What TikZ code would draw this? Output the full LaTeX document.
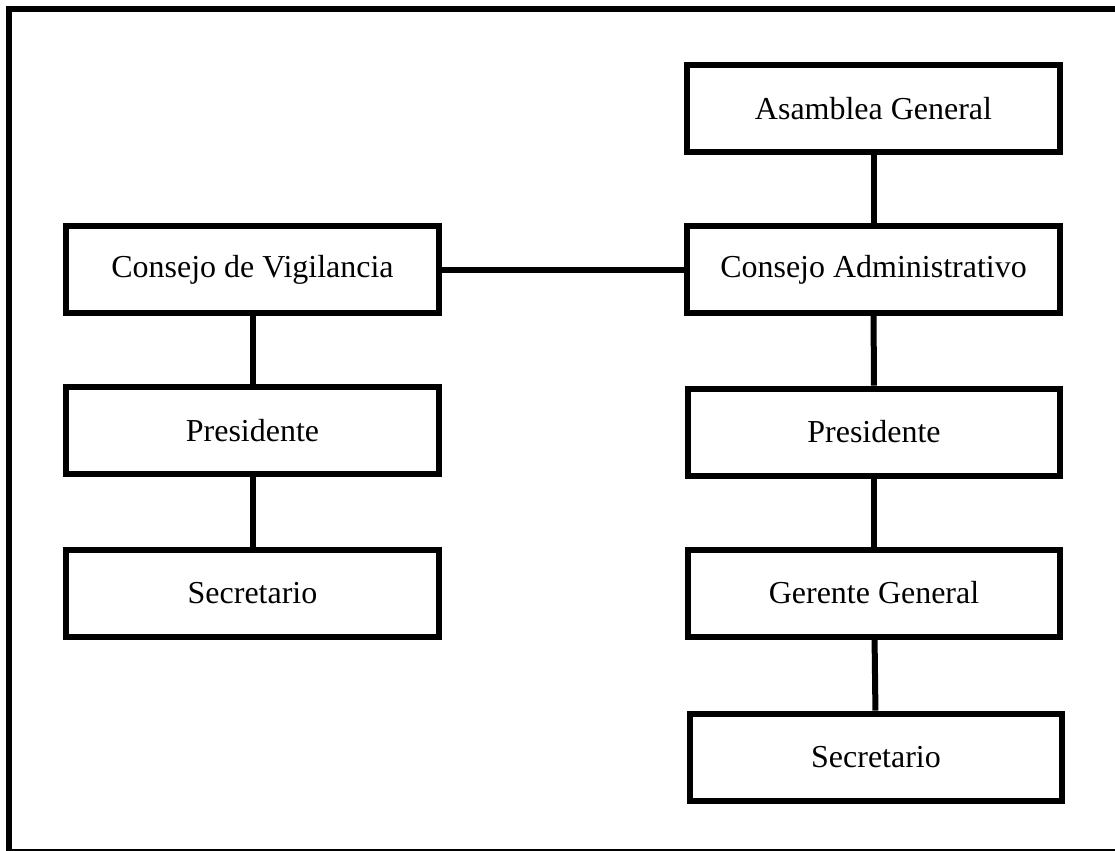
\documentclass[tikz,border=0pt]{standalone}
\usepackage{fontspec}
\setmainfont{Liberation Serif}
\usetikzlibrary{arrows}
\tikzset{b/.style={draw,line width=0.12cm,minimum width=7.46cm,minimum height=1.74cm,inner sep=0pt}}
\tikzset{t/.style={font=\fontsize{18.2}{18.2}\selectfont}}

\begin{document}
\begin{tikzpicture}[x=0.02cm,y=-0.02cm,line width=0.12cm,line join=miter]
          \useasboundingbox (0,0) rectangle (1115,850);
          \draw (9,9) rectangle (1121,852);
          \begin{scope}[t]
            \node[b] (AG) at (873.5,108.5) {Asamblea General};
            \node[b] (CA) at (873.5,269.5) {Consejo Administrativo}
              edge (AG);
            \node[b] (PR) at (874,432) {Presidente}
              edge (CA);
            \node[b] (GG) at (874,593) {Gerente General}
              edge (PR);
            \node[b] (SR) at (876,757) {Secretario}
              edge (GG);
            \node[b] (CV) at (252.5,269.5) {Consejo de Vigilancia}
              edge (CA);
            \node[b] (PL) at (252.5,430.5) {Presidente}
              edge (CV);
            \node[b] (SL) at (252.5,593.5) {Secretario}
              edge (PL);
          \end{scope}
        \end{tikzpicture}
\end{document}
